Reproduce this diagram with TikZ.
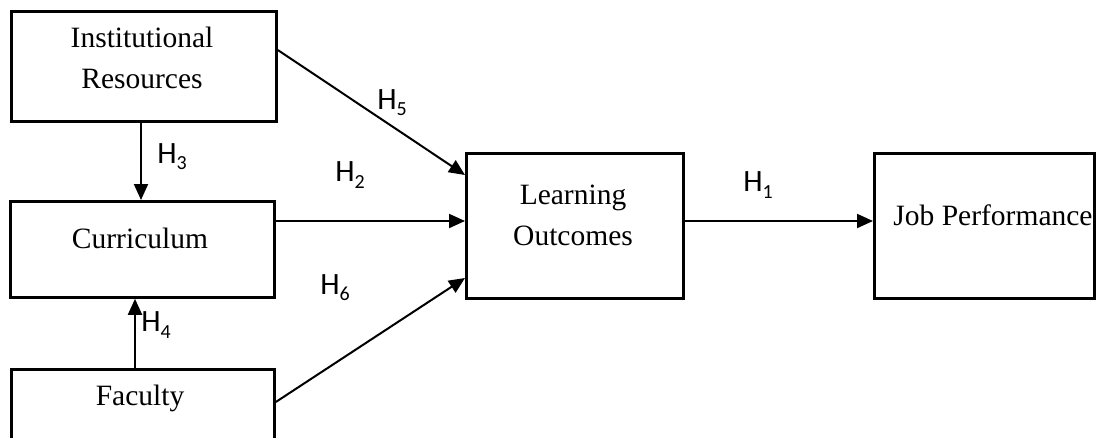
\documentclass[tikz,border=0pt]{standalone}
\usepackage{fontspec}
\setmainfont{Liberation Serif}
\newfontfamily\hfont{Carlito}
\usetikzlibrary{arrows.meta}
\newcommand{\hyp}[1]{{\hfont\fontsize{31}{34}\selectfont H\raisebox{-0.2em}{\fontsize{20}{20}\selectfont #1}}}
\begin{document}
\begin{tikzpicture}[x=1pt,y=-1pt,
  box/.style={draw=black,line width=2.8pt,inner sep=0pt,anchor=north west},
  txt/.style={font=\fontsize{29.5}{41}\selectfont,align=center,inner sep=0pt},
  arr/.style={line width=2pt,-{Triangle[length=16pt,width=14pt]}},
  hlab/.style={inner sep=0pt}]
\useasboundingbox (0,0) rectangle (1102,437);
\begin{scope}
\clip (0,0) rectangle (1102,437);
\node[box,minimum width=265pt,minimum height=110pt] (ir) at (10,10) {};
\node[box,minimum width=264pt,minimum height=96pt] (cu) at (9,200) {};
\node[box,minimum width=263pt,minimum height=110pt] (fa) at (10,368) {};
\node[box,minimum width=217pt,minimum height=145pt] (lo) at (465,152) {};
\node[box,minimum width=220pt,minimum height=145pt] (jp) at (873,152) {};
\end{scope}
\node[txt] (irt) at (142,58) {Institutional\\Resources};
\node[txt] (cut) at (140,238) {Curriculum};
\node[txt] (fat) at (140,398) {Faculty};
\node[txt] (lot) at (573,215) {Learning\\Outcomes};
\node[txt] (jpt) at (993,215) {Job Performance};
% connectors
\draw[arr] (ir.east |- 0,50) -- (lo.west |- 0,175);
\draw[arr] (cu.east |- 0,221) -- (lo.west |- 0,221);
\draw[arr] (fa.east |- 0,402) -- (lo.west |- 0,278);
\draw[arr] (lo.east |- 0,221) -- (jp.west |- 0,221);
\draw[arr] (ir.south -| 141,0) -- (cu.north -| 141,0);
\draw[arr] (fa.north -| 135,0) -- (cu.south -| 135,0);
% labels
\node[hlab] (h5) at (392,103) {\hyp{5}};
\node[hlab] (h2) at (350,175) {\hyp{2}};
\node[hlab] (h6) at (335,288) {\hyp{6}};
\node[hlab] (h1) at (758,185) {\hyp{1}};
\node[hlab] (h3) at (172,157) {\hyp{3}};
\node[hlab] (h4) at (156,325) {\hyp{4}};
\end{tikzpicture}
\end{document}
